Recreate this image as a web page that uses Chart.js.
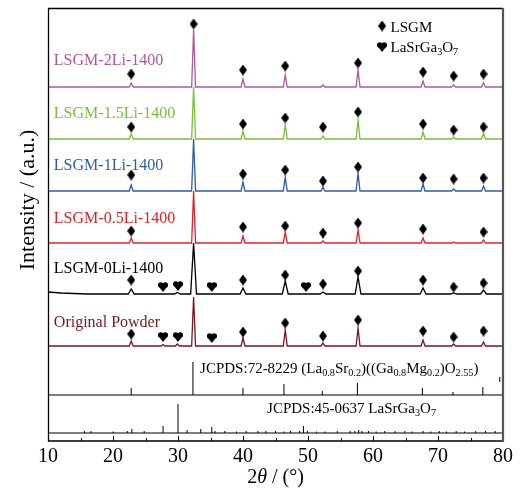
<!DOCTYPE html>
<html>
<head>
<meta charset="utf-8">
<title>XRD LSGM</title>
<style>
  body { margin: 0; background: #fff; }
  #wrap { width: 523px; height: 490px; position: relative; }
</style>
</head>
<body>
<div id="wrap"><canvas id="xrd"></canvas></div>
<script src="https://cdn.jsdelivr.net/npm/chart.js"></script>
<script>
// LSGM reflections (2theta, deg) and LaSrGa3O7 reflections marked with hearts
const lsgmPeaks = [22.8, 32.4, 40.0, 46.5, 52.3, 57.7, 67.7, 72.4, 77.0];
const heartPeaks = [27.7, 30.0, 35.2, 49.7];

const names = ['LSGM-2Li-1400', 'LSGM-1.5Li-1400', 'LSGM-1Li-1400', 'LSGM-0.5Li-1400', 'LSGM-0Li-1400', 'Original Powder'];
const colors = ['#b0569e', '#7abf3a', '#2e5ca8', '#e2202a', '#000000', '#7a1620'];
const offsets = [354, 302, 250, 198, 147, 95];

// peak intensities above each baseline (a.u.), same order as lsgmPeaks
const h2Li  = [4, 57, 8, 12, 2, 17, 6, 2, 4];
const h15Li = [5, 52, 8, 14, 3, 19, 7, 2, 6];
const h1Li  = [6, 52, 9, 14, 4, 18, 7, 2, 5];
const h05Li = [5, 52, 7, 11, 2, 13, 5, 1, 3];
const h0Li  = [5, 51, 6, 13, 2, 17, 6, 1, 4];
const hRaw  = [5, 49, 8, 16, 3, 18, 6, 2, 4];
const heights = [h2Li, h15Li, h1Li, h05Li, h0Li, hRaw];

// small secondary-phase bumps [2theta, intensity]
const extra0Li = [[29.9, 1.5]];
const extraRaw = [[27.7, 1.5], [29.9, 2]];
const bg0Li = [[10, 2], [12, 1], [16, 0]];

// diamond marker levels (a.u.), null = no marker
const dia2Li  = [367, 417, 371, 375, null, 378, 369, 365, 367];
const dia15Li = [314, null, 317, 323, 314, 329, 317, 311, 314];
const dia1Li  = [266, null, 267, 271, 260, 274, 263, 262, 263];
const dia05Li = [210, null, 214, 215, 208, 218, 212, null, 209];
const dia0Li  = [161, null, 161, 166, 157, 170, 161, 154, 158];
const diaRaw  = [107, null, 109, 118, 105, 121, 110, 104, 110];
const heart0Li = [154, 155, 154, 154];
const heartRaw = [104, 104, 103, null];

// reference cards
const jcpds72Base = 46;
const jcpds72Pos = [22.8, 32.3, 40.0, 46.3, 52.2, 57.6, 67.6, 72.3, 76.9];
const jcpds72Int = [7, 33, 7, 11, 4, 12, 7, 3, 8];
const jcpds45Base = 8;
const jcpds45Pos = [15.6, 16.6, 20.0, 22.2, 22.9, 24.8, 27.7, 30.0, 31.4, 33.5, 35.2, 35.7, 37.2, 39.0, 40.5, 42.3, 43.5, 45.0, 46.3, 47.3, 48.7, 49.3, 49.9, 51.3, 52.6, 54.5, 56.5, 57.2, 57.8, 58.3, 59.3, 60.5, 61.8, 63.4, 64.9, 66.0, 67.7, 68.9, 70.2, 71.3, 72.8, 74.1, 75.8, 77.3, 78.8];
const jcpds45Int = [2, 2, 1.5, 2, 4, 2, 7, 29, 3, 4, 6, 2, 2, 1.5, 2, 2, 2, 2, 1.5, 2, 2, 7, 2, 1.5, 1.5, 2, 2, 2, 3, 2, 2, 1.5, 2, 2, 2, 1.5, 2, 1.5, 2, 1.5, 2, 1.5, 2, 2, 2];

const labelX = 10.9;
const labelY = [376, 323, 271, 218, 168, 114];

const serif = '"Liberation Serif", "Times New Roman", serif';

function makeDiamond() {
    const c = document.createElement('canvas');
    c.width = 8; c.height = 11;
    const g = c.getContext('2d');
    g.fillStyle = '#000';
    g.beginPath();
    g.moveTo(4, 0); g.lineTo(8, 5.5); g.lineTo(4, 11); g.lineTo(0, 5.5);
    g.closePath(); g.fill();
    return c;
}

function makeHeart() {
    const c = document.createElement('canvas');
    c.width = 10; c.height = 10;
    const g = c.getContext('2d');
    g.fillStyle = '#000';
    g.beginPath();
    g.arc(2.7, 3, 2.7, 0, Math.PI * 2);
    g.arc(7.3, 3, 2.7, 0, Math.PI * 2);
    g.fill();
    g.beginPath();
    g.moveTo(0.1, 3.8); g.lineTo(9.9, 3.8); g.lineTo(5, 10);
    g.closePath(); g.fill();
    return c;
}

const diamondImg = makeDiamond();
const heartImg = makeHeart();

function patternLine(i) {
    const base = offsets[i];
    const w = i === 4 ? 0.45 : 0.3;
    let pts = [[10, 0], [80, 0]];
    if (i === 4) pts = pts.concat(bg0Li);
    lsgmPeaks.forEach((p, k) => {
        pts.push([p - w, 0], [p, heights[i][k]], [p + w, 0]);
    });
    const extra = i === 4 ? extra0Li : (i === 5 ? extraRaw : []);
    extra.forEach(([p, h]) => pts.push([p - w, 0], [p, h], [p + w, 0]));
    pts.sort((a, b) => a[0] - b[0]);
    return pts.map(([x, y]) => ({x: x, y: base + y}));
}

function sticks(pos, ints, base) {
    const out = [];
    pos.forEach((p, k) => {
        out.push({x: p, y: base}, {x: p, y: base + ints[k]}, {x: p, y: null});
    });
    return out;
}

function markers(pos, levels) {
    const out = [];
    pos.forEach((p, k) => { if (levels[k] !== null) out.push({x: p, y: levels[k]}); });
    return out;
}

const datasets = [];
names.forEach((n, i) => {
    datasets.push({
        label: n, data: patternLine(i), showLine: true,
        borderColor: colors[i], borderWidth: 1.3, pointRadius: 0, tension: 0
    });
});
datasets.push({data: sticks(jcpds72Pos, jcpds72Int, jcpds72Base), showLine: true, borderColor: '#000', borderWidth: 1, pointRadius: 0});
datasets.push({data: [{x: 79.5, y: 59}, {x: 79.5, y: 64}], showLine: true, borderColor: '#000', borderWidth: 1, pointRadius: 0});
datasets.push({data: [{x: 10, y: jcpds72Base}, {x: 80, y: jcpds72Base}], showLine: true, borderColor: '#000', borderWidth: 1.2, pointRadius: 0});
datasets.push({data: sticks(jcpds45Pos, jcpds45Int, jcpds45Base), showLine: true, borderColor: '#000', borderWidth: 1, pointRadius: 0});
datasets.push({data: [{x: 10, y: jcpds45Base}, {x: 80, y: jcpds45Base}], showLine: true, borderColor: '#000', borderWidth: 1.2, pointRadius: 0});

const diaLevels = [dia2Li, dia15Li, dia1Li, dia05Li, dia0Li, diaRaw];
const allDiamonds = [].concat(...diaLevels.map(l => markers(lsgmPeaks, l)));
allDiamonds.push({x: 61.4, y: 415});
const allHearts = markers(heartPeaks, heart0Li).concat(markers(heartPeaks, heartRaw));
allHearts.push({x: 61.4, y: 394});
datasets.push({data: allDiamonds, pointStyle: diamondImg, pointRadius: 4, showLine: false});
datasets.push({data: allHearts, pointStyle: heartImg, pointRadius: 4, showLine: false});

function drawRich(ctx, parts, x, y, size) {
    let cx = x;
    parts.forEach(([t, kind]) => {
        let s = size, dy = 0, style = '';
        if (kind === 'sub') { s = size * 0.68; dy = size * 0.22; }
        if (kind === 'it') style = 'italic ';
        ctx.font = style + s + 'px ' + serif;
        ctx.fillText(t, cx, y + dy);
        cx += ctx.measureText(t).width;
    });
}

function richWidth(ctx, parts, size) {
    let w = 0;
    parts.forEach(([t, kind]) => {
        let s = kind === 'sub' ? size * 0.68 : size;
        ctx.font = (kind === 'it' ? 'italic ' : '') + s + 'px ' + serif;
        w += ctx.measureText(t).width;
    });
    return w;
}

const decorPlugin = {
    id: 'decor',
    afterDatasetsDraw(chart) {
        const ctx = chart.ctx;
        const xs = chart.scales.x, ys = chart.scales.y;
        const a = chart.chartArea;
        ctx.save();
        // inward ticks on bottom axis
        ctx.strokeStyle = '#000';
        ctx.lineWidth = 1;
        xs.ticks.forEach(t => {
            const px = Math.round(xs.getPixelForValue(t.value)) + 0.5;
            const len = t.value % 10 === 0 ? 5 : 3;
            ctx.beginPath();
            ctx.moveTo(px, a.bottom);
            ctx.lineTo(px, a.bottom - len);
            ctx.stroke();
        });
        // frame
        ctx.lineWidth = 1.3;
        ctx.beginPath();
        ctx.moveTo(a.left + 0.5, a.top + 0.5);
        ctx.lineTo(a.left + 0.5, a.bottom);
        ctx.lineTo(a.right, a.bottom);
        ctx.moveTo(a.left, a.top + 0.5);
        ctx.lineTo(a.right, a.top + 0.5);
        ctx.stroke();
        ctx.strokeStyle = '#555';
        ctx.lineWidth = 2.2;
        ctx.beginPath();
        ctx.moveTo(a.right, a.top);
        ctx.lineTo(a.right, a.bottom + 1);
        ctx.stroke();

        // series labels
        ctx.textBaseline = 'alphabetic';
        ctx.textAlign = 'left';
        names.forEach((n, i) => {
            ctx.fillStyle = colors[i];
            ctx.font = '16px ' + serif;
            ctx.fillText(n, xs.getPixelForValue(labelX), ys.getPixelForValue(labelY[i]));
        });
        ctx.fillStyle = '#000';
        drawRich(ctx, [['JCPDS:72-8229 (La', 'n'], ['0.8', 'sub'], ['Sr', 'n'], ['0.2', 'sub'], [')((Ga', 'n'], ['0.8', 'sub'], ['Mg', 'n'], ['0.2', 'sub'], [')O', 'n'], ['2.55', 'sub'], [')', 'n']],
            xs.getPixelForValue(33.4), ys.getPixelForValue(68), 15);
        drawRich(ctx, [['JCPDS:45-0637 LaSrGa', 'n'], ['3', 'sub'], ['O', 'n'], ['7', 'sub']],
            xs.getPixelForValue(43.7), ys.getPixelForValue(28), 15);
        // legend
        drawRich(ctx, [['LSGM', 'n']], xs.getPixelForValue(62.7), ys.getPixelForValue(409), 15);
        drawRich(ctx, [['LaSrGa', 'n'], ['3', 'sub'], ['O', 'n'], ['7', 'sub']], xs.getPixelForValue(62.7), ys.getPixelForValue(389), 15);

        // axis titles
        const xt = [['2', 'n'], ['\u03b8', 'it'], [' / (\u00b0)', 'n']];
        const w = richWidth(ctx, xt, 20);
        drawRich(ctx, xt, (a.left + a.right) / 2 - w / 2, 483, 20);

        ctx.translate(28, 200);
        ctx.rotate(-Math.PI / 2);
        ctx.textAlign = 'center';
        ctx.textBaseline = 'middle';
        ctx.font = '22px ' + serif;
        ctx.fillText('Intensity / (a.u.)', 0, 0);
        ctx.restore();
    }
};

new Chart(document.getElementById('xrd'), {
    type: 'scatter',
    data: {datasets: datasets},
    options: {
        responsive: true,
        maintainAspectRatio: false,
        animation: false,
        events: [],
        layout: {padding: {left: 48, top: 8, right: 20, bottom: 0}},
        plugins: {legend: {display: false}, tooltip: {enabled: false}},
        elements: {line: {tension: 0}},
        scales: {
            x: {
                type: 'linear', min: 10, max: 80,
                grid: {display: false, drawTicks: false},
                border: {display: false},
                ticks: {
                    stepSize: 5, padding: 4, color: '#000',
                    font: {family: serif, size: 20},
                    maxRotation: 0, autoSkip: false,
                    callback: v => (v % 10 === 0 ? v : '')
                },
                afterFit: s => { s.height = 49; }
            },
            y: {min: 0, max: 433, display: false}
        }
    },
    plugins: [decorPlugin]
});
</script>
</body>
</html>
